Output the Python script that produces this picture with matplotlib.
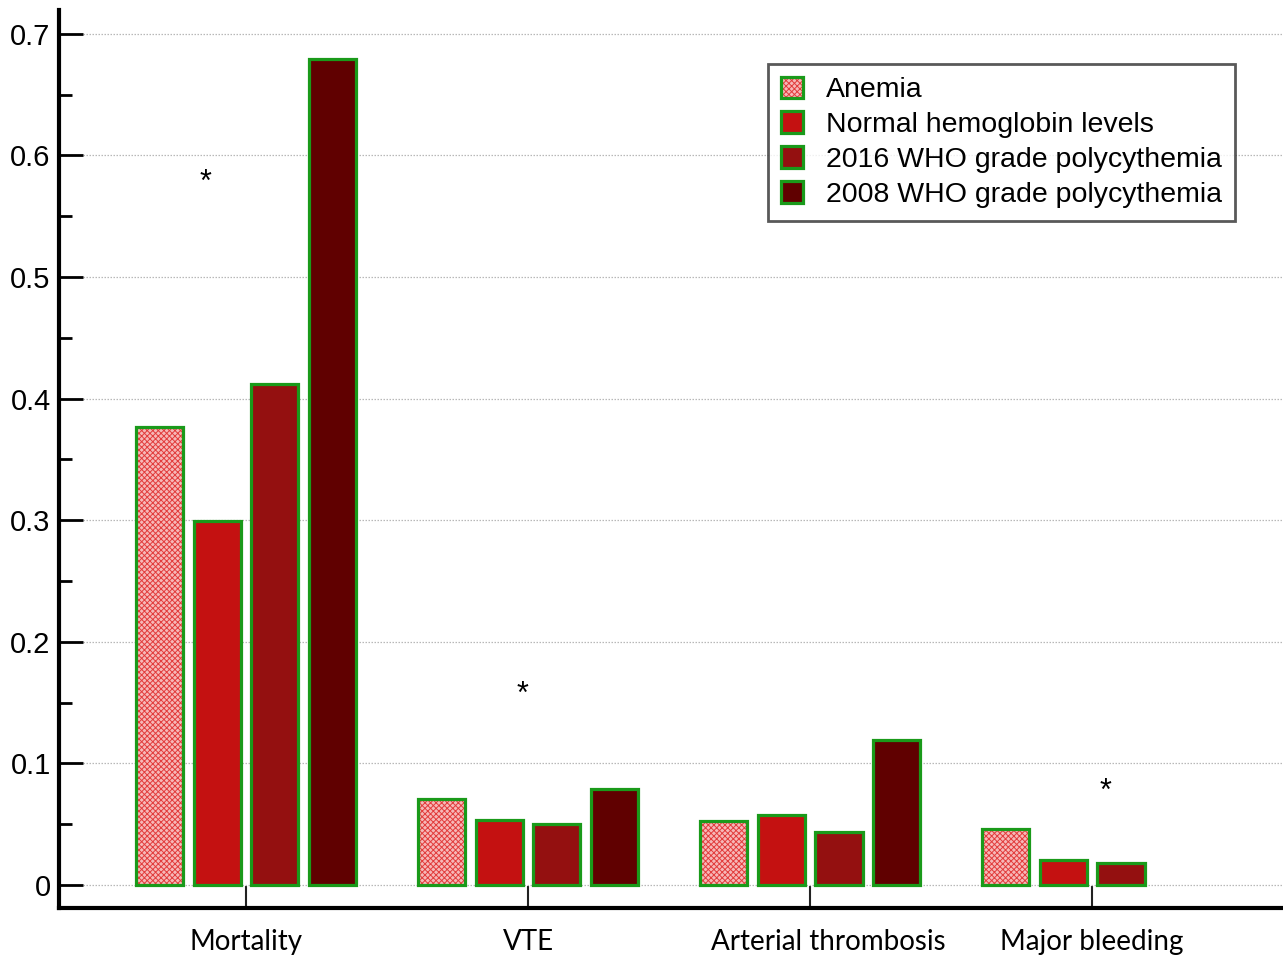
import matplotlib
matplotlib.use("Agg")
import matplotlib.pyplot as plt
import matplotlib.transforms as mtransforms
import numpy as np
from matplotlib.patches import Patch
from matplotlib.legend_handler import HandlerTuple

categories = ["Mortality", "VTE", "Arterial thrombosis", "Major bleeding"]
series_names = ["Anemia", "Normal hemoglobin levels",
                "2016 WHO grade polycythemia", "2008 WHO grade polycythemia"]
anemia = [0.377, 0.0707, 0.0526, 0.046]
normal = [0.299, 0.0535, 0.0576, 0.0206]
who2016 = [0.412, 0.050, 0.0436, 0.018]
who2008 = [0.679, 0.079, 0.119, np.nan]
asterisk_x = [-0.145, 0.98, 3.046]
asterisk_y = [0.577, 0.156, 0.0765]
yticks = [0, 0.1, 0.2, 0.3, 0.4, 0.5, 0.6, 0.7]
ytick_labels = ["0", "0.1", "0.2", "0.3", "0.4", "0.5", "0.6", "0.7"]

colors = ["#f6b8b8", "#c41111", "#941010", "#600000"]
hatch_color = "#e23c3c"
edge_green = "#1a9a1a"

plt.rcParams['hatch.linewidth'] = 0.7
plt.rcParams['font.family'] = ['Liberation Sans', 'DejaVu Sans']

fig = plt.figure(figsize=(12.83, 9.57), dpi=100)
ax = fig.add_axes([0.046, 0.0512, 0.954, 0.9384])

x = np.arange(len(categories))
width = 0.167
step = 0.205
offsets = (np.arange(4) - 1.5) * step
data = [anemia, normal, who2016, who2008]

for i, vals in enumerate(data):
    v = np.array(vals, dtype=float)
    if i == 0:
        ax.bar(x + offsets[i], v, width, facecolor=colors[i], edgecolor=hatch_color,
               hatch="xxxxxx", linewidth=0, zorder=3)
        ax.bar(x + offsets[i], v, width, facecolor="none", edgecolor=edge_green,
               linewidth=2.3, zorder=4)
    else:
        ax.bar(x + offsets[i], v, width, facecolor=colors[i], edgecolor=edge_green,
               linewidth=2.3, zorder=3)

for xs, ys in zip(asterisk_x, asterisk_y):
    ax.text(xs, ys, "*", ha="center", va="center", fontsize=22, color="black")

ax.set_xlim(-0.663, 3.677)
ax.set_ylim(-0.0189, 0.7196)
ax.set_yticks(yticks)
ax.set_yticklabels(ytick_labels, fontsize=21)
ax.set_yticks(np.arange(0.05, 0.7, 0.1), minor=True)
ax.set_xticks(x)
ax.set_xticklabels(categories, fontsize=20, family=['Lato', 'DejaVu Sans'])

ax.tick_params(axis='y', which='major', direction='in', length=17, width=2, pad=6, colors='black')
ax.tick_params(axis='y', which='minor', direction='in', length=9.5, width=2, colors='black')
ax.tick_params(axis='x', which='major', direction='in', length=16, width=1.5, pad=15,
               colors='#222222', labelcolor='black')
ax.tick_params(axis='x', which='minor', bottom=False)

# the "Arterial thrombosis" label sits slightly right of its tick in the reference
lbl = ax.get_xticklabels()[2]
lbl.set_transform(lbl.get_transform() + mtransforms.ScaledTranslation(0.18, 0, fig.dpi_scale_trans))

for s in ['top', 'right']:
    ax.spines[s].set_visible(False)
ax.spines['left'].set_linewidth(3)
ax.spines['bottom'].set_linewidth(3)

ax.yaxis.grid(True, which='major', linestyle=(0, (1.2, 1.2)), color='#b8b8b8', linewidth=0.9, zorder=0)
ax.set_axisbelow(True)

handles = []
for i in range(4):
    if i == 0:
        h = (Patch(facecolor=colors[0], edgecolor=hatch_color, hatch="xxxxxx", linewidth=0),
             Patch(facecolor="none", edgecolor=edge_green, linewidth=2.3))
    else:
        h = Patch(facecolor=colors[i], edgecolor=edge_green, linewidth=2.3)
    handles.append(h)

leg = ax.legend(handles, series_names, loc='upper left', bbox_to_anchor=(0.579, 0.940),
                borderaxespad=0, fontsize=20.5, frameon=True, fancybox=False,
                handlelength=0.8, handleheight=0.8, handletextpad=0.8,
                borderpad=0.45, labelspacing=0.28,
                handler_map={tuple: HandlerTuple(ndivide=1, pad=0)})
leg.get_frame().set_edgecolor('#303030')
leg.get_frame().set_linewidth(2)

fig.savefig("out.png", dpi=100)
